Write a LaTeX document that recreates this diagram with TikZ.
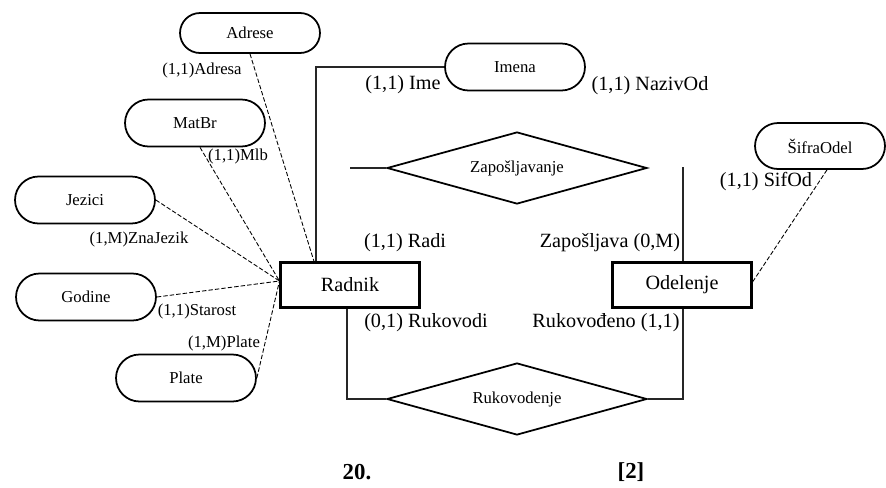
\documentclass[tikz,border=0pt]{standalone}
\usepackage{fontspec}
\setmainfont{Liberation Serif}
\usetikzlibrary{shapes.geometric}
\begin{document}
\begin{tikzpicture}[x=0.02cm,y=-0.02cm,
  entitet/.style={draw,line width=1.2pt,minimum width=2.78cm,minimum height=0.9cm,font=\fontsize{11.5}{13}\selectfont},
  atribut/.style={draw,line width=1pt,minimum width=2.8cm,minimum height=0.94cm,rounded corners=0.47cm,font=\fontsize{9.5}{11}\selectfont},
  veza/.style={draw,diamond,aspect=3.6,line width=1pt,minimum width=5.2cm,minimum height=1.44cm,inner sep=0pt,font=\fontsize{9.5}{11}\selectfont},
  oznaka/.style={font=\fontsize{9.5}{11}\selectfont,inner sep=0pt},
  uloga/.style={font=\fontsize{11.5}{13}\selectfont,inner sep=0pt},
  isprekidano/.style={dash pattern=on 2.5pt off 1.2pt,line width=0.5pt},
  puna/.style={line width=0.6pt,black!85}]
    \useasboundingbox (0,0) rectangle (886,487);
    \node[entitet] (radnik) at (350,285) {Radnik};
    \node[entitet] (odelenje) at (682,285) {Odelenje};
    \node[veza] (zap) at (517,168) {Zapošljavanje};
    \node[veza] (ruk) at (517,399) {Rukovodenje};
\node[atribut,minimum height=0.8cm,rounded corners=0.4cm] (adrese) at (250,33) {Adrese};
    \node[atribut] (matbr) at (195,123) {MatBr};
    \node[atribut] (jezici) at (85,200) {Jezici};
    \node[atribut] (godine) at (86,297) {Godine};
    \node[atribut] (plate) at (186,378) {Plate};
    \node[atribut] (imena) at (515,67) {Imena};
    \node[atribut,minimum width=2.6cm,minimum height=0.92cm,rounded corners=0.46cm] (sifra) at (820,146) {ŠifraOdel};
    \draw[puna] ([xshift=-0.68cm]radnik.north) |- (imena.west);
    \coordinate (zapL) at (350,168);
    \coordinate (zapR) at (683,167);
    \draw[puna] (zapL) -- (zap.west);
    \draw[puna] (zapR) -- (zapR |- odelenje.north);
    \draw[puna] ([xshift=-0.06cm]radnik.south) |- (ruk.west);
    \draw[puna] (ruk.east) -| ([xshift=0.02cm]odelenje.south);
    \draw[isprekidano] (adrese.south) -- ([xshift=-0.72cm]radnik.north);
    \draw[isprekidano] ([xshift=0.1cm]matbr.south) -- ([yshift=0.08cm]radnik.west);
    \draw[isprekidano] (jezici.east) -- ([yshift=0.08cm]radnik.west);
    \draw[isprekidano] (godine.east) -- ([yshift=0.08cm]radnik.west);
    \draw[isprekidano] (plate.east) -- ([yshift=0.08cm]radnik.west);
    \draw[isprekidano] ([xshift=0.14cm]sifra.south) -- ([yshift=0.06cm]odelenje.east);
    \node[oznaka] (lAdresa) at (202,70) {(1,1)Adresa};
    \node[oznaka] (lMlb) at (238,156) {(1,1)Mlb};
    \node[oznaka] (lJezik) at (139,239) {(1,M)ZnaJezik};
    \node[oznaka] (lStarost) at (197,311) {(1,1)Starost};
    \node[oznaka] (lPlate) at (224,343) {(1,M)Plate};
    \node[uloga] (lIme) at (403,85) {(1,1) Ime};
    \node[uloga] (lNaziv) at (650,86) {(1,1) NazivOd};
    \node[uloga] (lSif) at (766,182) {(1,1) SifOd};
    \node[uloga] (lRadi) at (405,243) {(1,1) Radi};
    \node[uloga] (lZap) at (610,243) {Zapošljava (0,M)};
    \node[uloga] (lRuk) at (426,323) {(0,1) Rukovodi};
    \node[uloga] (lRukd) at (606,323) {Rukovođeno (1,1)};
    \node[font=\fontsize{13}{15}\selectfont\bfseries] (broj) at (357,472) {20.};
    \node[font=\fontsize{13}{15}\selectfont\bfseries] (izvor) at (631,472) {[2]};
\end{tikzpicture}
\end{document}
